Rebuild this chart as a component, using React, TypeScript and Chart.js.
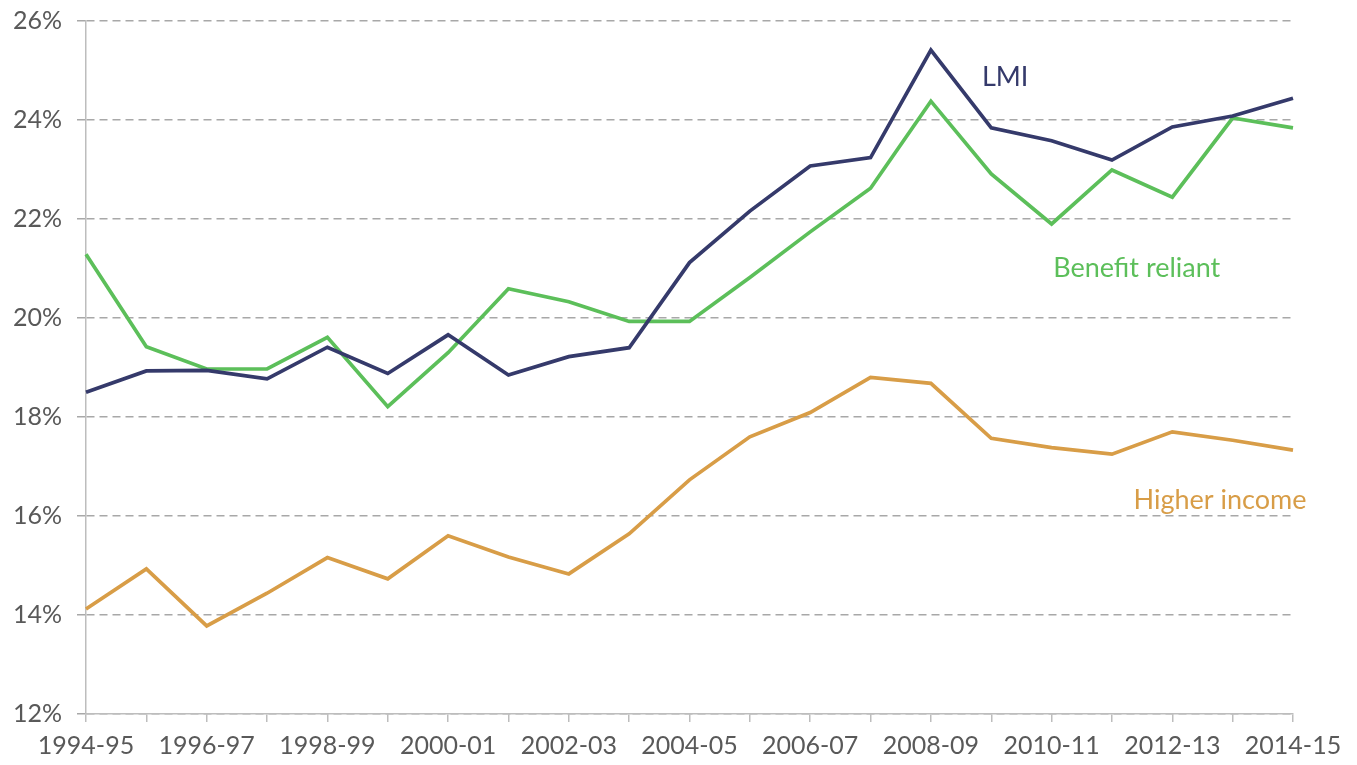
import React, { useEffect, useRef } from "react";
import { Chart, registerables } from "chart.js";

Chart.register(...registerables);

const categories = [
  "1994-95", "1995-96", "1996-97", "1997-98", "1998-99", "1999-00", "2000-01",
  "2001-02", "2002-03", "2003-04", "2004-05", "2005-06", "2006-07", "2007-08",
  "2008-09", "2009-10", "2010-11", "2011-12", "2012-13", "2013-14", "2014-15",
];

const lmi = [
  18.5, 18.93, 18.94, 18.77, 19.41, 18.88, 19.66, 18.85, 19.22, 19.4, 21.12,
  22.16, 23.07, 23.24, 25.41, 23.84, 23.58, 23.19, 23.86, 24.08, 24.44,
];

const benefitReliant = [
  21.29, 19.42, 18.97, 18.97, 19.61, 18.21, 19.3, 20.59, 20.33, 19.93, 19.93,
  20.82, 21.74, 22.62, 24.38, 22.91, 21.9, 22.99, 22.44, 24.04, 23.84,
];

const higherIncome = [
  14.12, 14.93, 13.78, 14.44, 15.16, 14.73, 15.6, 15.17, 14.83, 15.64, 16.73,
  17.6, 18.09, 18.8, 18.68, 17.57, 17.38, 17.25, 17.7, 17.53, 17.33,
];

const seriesNames = ["LMI", "Benefit reliant", "Higher income"];
const seriesColors = ["#353a6b", "#5cbf5a", "#d89d47"];
// label anchor: [category index (fractional), value]
const labelAnchors: [number, number][] = [
  [15.23, 24.87],
  [17.41, 21.01],
  [18.79, 16.32],
];

const FONT = "Lato, 'Open Sans', sans-serif";

export default function App() {
  const ref = useRef<HTMLCanvasElement | null>(null);

  useEffect(() => {
    document.body.style.margin = "0";
    const canvas = ref.current;
    if (!canvas) return;

    const labelPlugin = {
      id: "seriesLabels",
      afterDatasetsDraw(chart: any) {
        const { ctx, scales } = chart;
        ctx.save();
        ctx.font = `27px ${FONT}`;
        ctx.textAlign = "center";
        ctx.textBaseline = "middle";
        labelAnchors.forEach(([xi, v], i) => {
          const x = scales.x.getPixelForDecimal(xi / (categories.length - 1));
          const y = scales.y.getPixelForValue(v);
          ctx.fillStyle = seriesColors[i];
          ctx.fillText(seriesNames[i], x, y);
        });
        ctx.restore();
      },
    };

    const chart = new Chart(canvas, {
      type: "line",
      data: {
        labels: categories,
        datasets: [lmi, benefitReliant, higherIncome].map((d, i) => ({
          label: seriesNames[i],
          data: d,
          borderColor: seriesColors[i],
          backgroundColor: seriesColors[i],
          borderWidth: 3.7,
          pointRadius: 0,
          tension: 0,
          fill: false,
        })),
      },
      options: {
        animation: false,
        responsive: false,
        maintainAspectRatio: false,
        layout: { padding: { top: 21, right: 64, left: 0, bottom: 0 } },
        plugins: {
          legend: { display: false },
          tooltip: { enabled: false },
        },
        scales: {
          x: {
            offset: false,
            border: { display: true, color: "#bdbdbd", width: 1.5 },
            grid: {
              drawOnChartArea: false,
              drawTicks: true,
              tickLength: 8,
              color: "#bdbdbd",
              lineWidth: 1.5,
            },
            ticks: {
              autoSkip: false,
              maxRotation: 0,
              padding: 9,
              color: "#595959",
              font: { family: FONT, size: 25 },
              callback: (_v: any, i: number) => (i % 2 === 0 ? categories[i] : ""),
            },
            afterFit: (s: any) => {
              s.height = 51;
              s.paddingLeft = 0;
              s.paddingRight = 0;
            },
          },
          y: {
            min: 12,
            max: 26,
            border: { display: true, color: "#bdbdbd", width: 1.5, dash: [8, 5] },
            grid: {
              color: "#a8a8a8",
              lineWidth: 1.5,
              tickLength: 9,
              tickColor: "#a8a8a8",
              tickBorderDash: [1, 0],
            },
            ticks: {
              stepSize: 2,
              padding: 15,
              color: "#595959",
              font: { family: FONT, size: 25 },
              callback: (v: any) => `${v}%`,
            },
            afterFit: (s: any) => {
              s.width = 86;
              s.paddingTop = 0;
              s.paddingBottom = 0;
            },
          },
        },
      },
      plugins: [labelPlugin],
    } as any);

    return () => chart.destroy();
  }, []);

  return (
    <div style={{ width: 1357, height: 765 }}>
      <canvas ref={ref} width={1357} height={765} style={{ display: "block" }} />
    </div>
  );
}
